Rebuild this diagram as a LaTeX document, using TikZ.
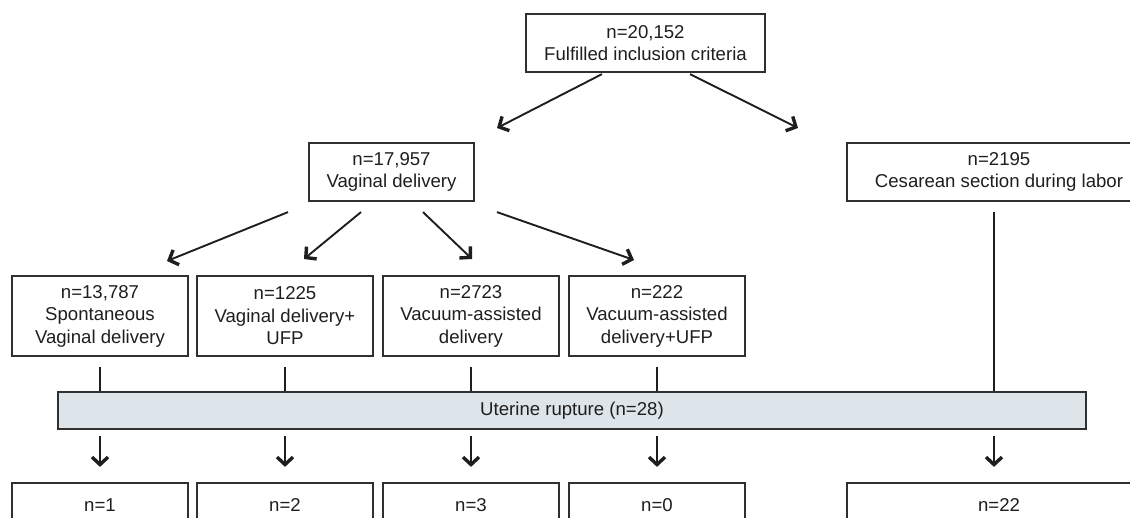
\documentclass[tikz,border=0pt]{standalone}
\usepackage{fontspec}
\setmainfont{Liberation Sans}
\usetikzlibrary{arrows.meta}
\definecolor{boxc}{HTML}{303030}
\definecolor{arrc}{HTML}{1E1E1E}
\definecolor{txtc}{HTML}{1E1E1E}
\definecolor{barfill}{HTML}{DEE5EA}
\begin{document}
\begin{tikzpicture}[x=1pt,y=-1pt,
  box/.style={draw=boxc, line width=2.2pt, inner sep=0pt, align=center,
    font=\fontsize{18.6pt}{22.5pt}\selectfont, text=txtc},
  rowbox/.style={box, minimum width=176pt, minimum height=80pt},
  botbox/.style={box, minimum width=176pt, minimum height=44pt},
  arr/.style={draw=arrc, line width=1.9pt, -{Straight Barb[length=7.5pt,width=16pt,line width=3.4pt]}},
  ln/.style={draw=arrc, line width=1.9pt}]
\path[use as bounding box] (0,0) rectangle (1130,517);
\clip (0,0) rectangle (1130,517);

% level 0
\node[box, minimum width=239pt, minimum height=58pt] (top) at (645.5,43) {n=20,152\\Fulfilled inclusion criteria};
% level 1
\node[box, minimum width=165pt, minimum height=58pt] (vag) at (391.5,172) {n=17,957\\Vaginal delivery};
\node[box, minimum width=304pt, minimum height=58pt] (ces) at (999,172) {n=2195\\Cesarean section during labor};
% level 2
\node[rowbox] (r1) at (100,316) {n=13,787\\Spontaneous\\Vaginal delivery};
\node[rowbox] (r2) at (285,316) {n=1225\\Vaginal delivery+\\UFP};
\node[rowbox] (r3) at (471,316) {n=2723\\Vacuum-assisted\\delivery};
\node[rowbox] (r4) at (657,316) {n=222\\Vacuum-assisted\\delivery+UFP};
% bar
\node[box, fill=barfill, minimum width=1028pt, minimum height=37pt] (bar) at (572,410.5) {Uterine rupture (n=28)};
% bottom
\node[botbox] (b1) at (100,505) {n=1};
\node[botbox] (b2) at (285,505) {n=2};
\node[botbox] (b3) at (471,505) {n=3};
\node[botbox] (b4) at (657,505) {n=0};
\node[box, minimum width=304pt, minimum height=44pt] (b5) at (999,505) {n=22};

% arrow end coordinates
\coordinate (tl) at (497,128);
\coordinate (tr) at (798,128);
\coordinate (e1) at (167,261);
\coordinate (e2) at (304,259);
\coordinate (e3) at (472,259);
\coordinate (e4) at (634,260);

\draw[arr] ([xshift=-43.5pt,yshift=-1pt]top.south) -- (tl);
\draw[arr] ([xshift=44.5pt,yshift=-1pt]top.south) -- (tr);

\draw[arr] ([xshift=-103.5pt,yshift=-10pt]vag.south) -- (e1);
\draw[arr] ([xshift=-30.5pt,yshift=-10pt]vag.south) -- (e2);
\draw[arr] ([xshift=31.5pt,yshift=-10pt]vag.south) -- (e3);
\draw[arr] ([xshift=105.5pt,yshift=-10pt]vag.south) -- (e4);

% lines into the bar
\foreach \n in {r1,r2,r3,r4}{
  \draw[ln] ([yshift=-10pt]\n.south) -- (\n.south |- bar.north);
}
\draw[ln] ([xshift=-5pt,yshift=-10pt]ces.south) -- ([xshift=-5pt]ces.south |- bar.north);

% arrows out of the bar
\foreach \n in {b1,b2,b3,b4}{
  \draw[arr] (\n.north |- bar.south) ++(0,6) -- ([yshift=15pt]\n.north);
}
\draw[arr] ([xshift=-5pt]b5.north |- bar.south) ++(0,6) -- ([xshift=-5pt,yshift=15pt]b5.north);
\end{tikzpicture}
\end{document}
